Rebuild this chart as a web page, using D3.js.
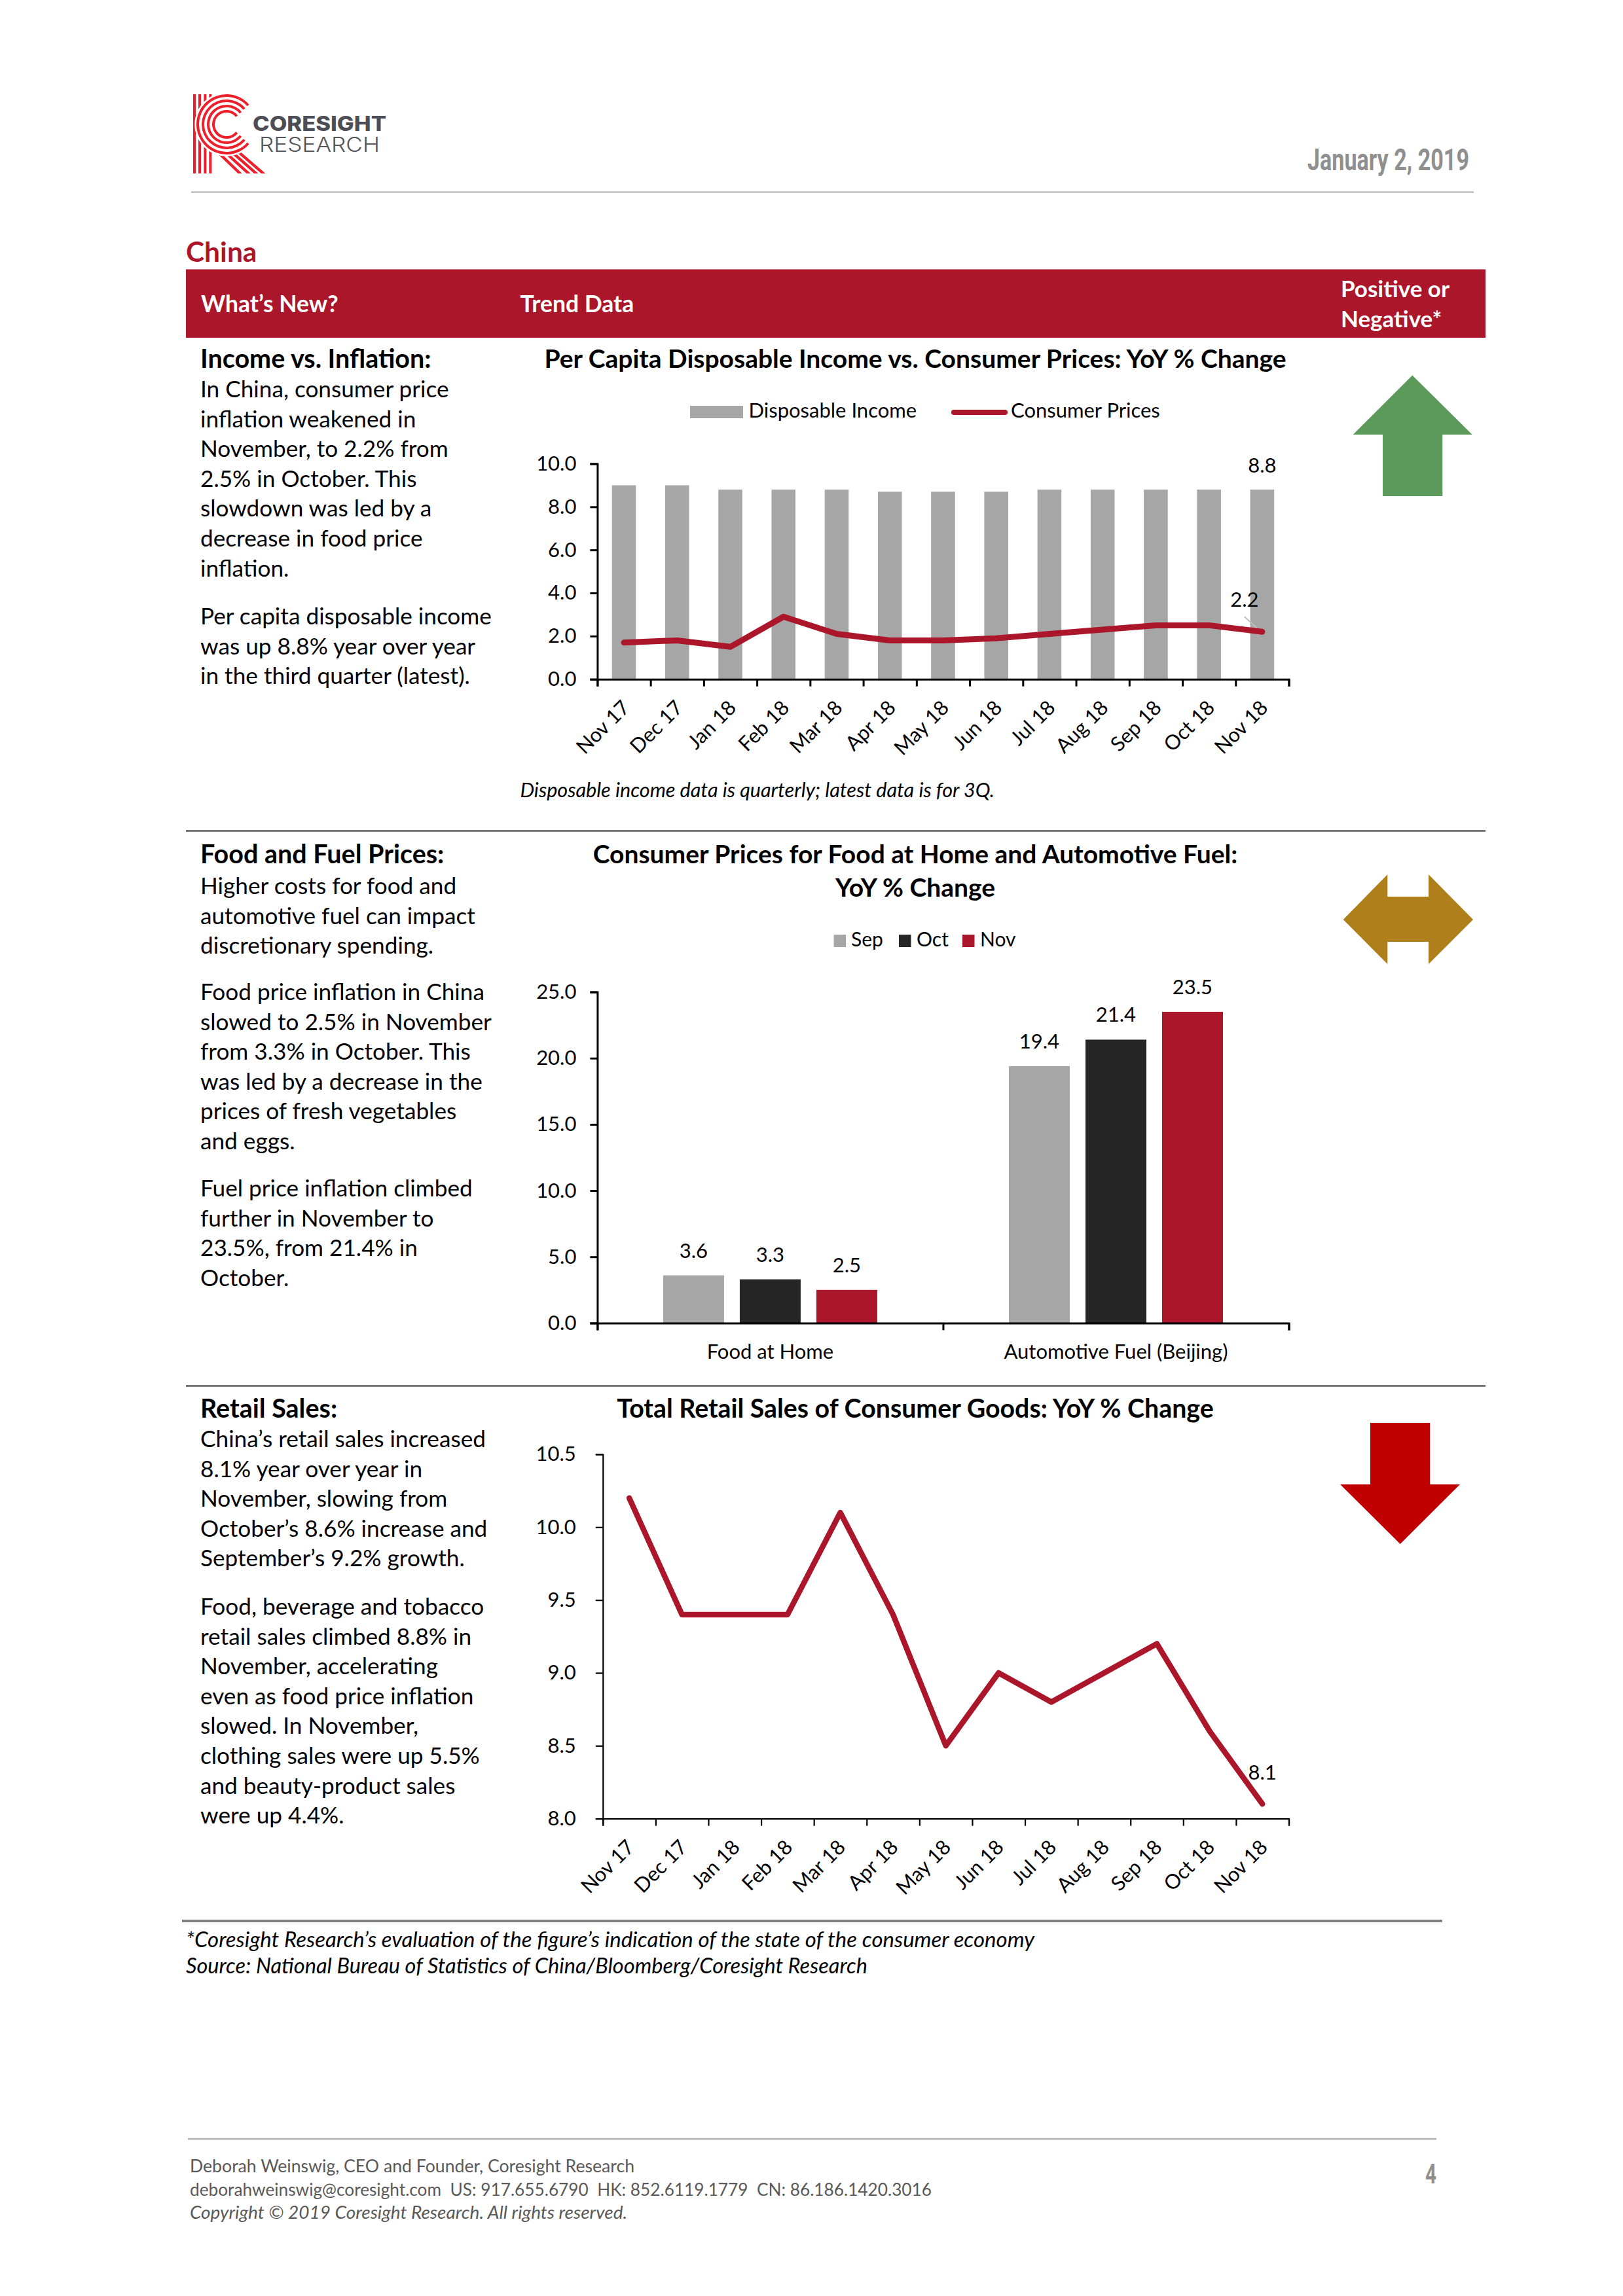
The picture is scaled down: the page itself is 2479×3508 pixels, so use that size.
<!DOCTYPE html>
<html><head><meta charset="utf-8">
<script src="https://cdn.jsdelivr.net/npm/d3@7/dist/d3.min.js"></script>
<style>html,body{margin:0;padding:0;background:#fff}svg{display:block}text{font-family:Lato,sans-serif}</style>
</head><body><svg id="page" width="2479" height="3508" xmlns="http://www.w3.org/2000/svg"></svg>
<script>
const months = ["Nov 17","Dec 17","Jan 18","Feb 18","Mar 18","Apr 18","May 18","Jun 18","Jul 18","Aug 18","Sep 18","Oct 18","Nov 18"];
const disposableIncome = [9.0,9.0,8.8,8.8,8.8,8.7,8.7,8.7,8.8,8.8,8.8,8.8,8.8];
const consumerPrices = [1.7,1.8,1.5,2.9,2.1,1.8,1.8,1.9,2.1,2.3,2.5,2.5,2.2];
const foodFuelCategories = ["Food at Home","Automotive Fuel (Beijing)"];
const foodFuelSeries = ["Sep","Oct","Nov"];
const sepValues = [3.6,19.4];
const octValues = [3.3,21.4];
const novValues = [2.5,23.5];
const retailSales = [10.2,9.4,9.4,9.4,10.1,9.4,8.5,9.0,8.8,9.0,9.2,8.6,8.1];
const ticks1 = [0,2,4,6,8,10];
const ticks2 = [0,5,10,15,20,25];
const ticks3 = [8,8.5,9,9.5,10,10.5];

const blocks = [
 {head:"Income vs. Inflation:", y:562, paras:[
  ["In China, consumer price","inflation weakened in","November, to 2.2% from","2.5% in October. This","slowdown was led by a","decrease in food price","inflation."],
  ["Per capita disposable income","was up 8.8% year over year","in the third quarter (latest)."]], y2:[607,954]},
 {head:"Food and Fuel Prices:", y:1319, paras:[
  ["Higher costs for food and","automotive fuel can impact","discretionary spending."],
  ["Food price inflation in China","slowed to 2.5% in November","from 3.3% in October. This","was led by a decrease in the","prices of fresh vegetables","and eggs."],
  ["Fuel price inflation climbed","further in November to","23.5%, from 21.4% in","October."]], y2:[1366,1528,1828]},
 {head:"Retail Sales:", y:2166, paras:[
  ["China’s retail sales increased","8.1% year over year in","November, slowing from","October’s 8.6% increase and","September’s 9.2% growth."],
  ["Food, beverage and tobacco","retail sales climbed 8.8% in","November, accelerating","even as food price inflation","slowed. In November,","clothing sales were up 5.5%","and beauty-product sales","were up 4.4%."]], y2:[2211,2467]}
];

const RED="#AB162B", GREY="#A6A6A6", DARK="#262626", CH=31;
const svg=d3.select("#page");
svg.append("rect").attr("width",2479).attr("height",3508).attr("fill","#fff");

function T(x,y,s,o={}){
  const t=svg.append("text").attr("x",x).attr("y",y).text(s)
    .attr("font-size",o.size||35.2).attr("fill",o.fill||"#000")
    .attr("font-weight",o.weight||400).attr("font-style",o.style||"normal")
    .attr("text-anchor",o.anchor||"start");
  if(o.family) t.style("font-family",o.family);
  if(o.w) t.attr("textLength",o.w).attr("lengthAdjust","spacingAndGlyphs");
  return t;
}
function rule(x1,x2,y,c,w){svg.append("line").attr("x1",x1).attr("x2",x2).attr("y1",y).attr("y2",y).attr("stroke",c).attr("stroke-width",w);}
function poly(pts,c){svg.append("polygon").attr("points",pts.map(p=>p.join(",")).join(" ")).attr("fill",c);}

/* logo */
(function(){
  const g=svg.append("g").attr("transform","translate(270,120) scale(0.3333)");
  const R="#ED1F2A";
  svg.append("clipPath").attr("id","logoClip").append("rect").attr("x",70).attr("y",72).attr("width",340).attr("height",363);
  const c=g.append("g").attr("clip-path","url(#logoClip)");
  [81,105,130,154].forEach(x=>c.append("line").attr("x1",x).attr("x2",x).attr("y1",72).attr("y2",435).attr("stroke",R).attr("stroke-width",12));
  [[150,300,300,445],[180,300,340,445],[205,295,375,445],[235,295,408,445]].forEach(l=>
    c.append("line").attr("x1",l[0]).attr("y1",l[1]).attr("x2",l[2]).attr("y2",l[3]).attr("stroke",R).attr("stroke-width",13));
  const cx=228,cy=210;
  g.append("circle").attr("cx",cx).attr("cy",cy).attr("r",146).attr("fill","#fff");
  [[126,138,.85],[102,114,.86],[78,90,.88],[54,66,.9]].forEach(a=>{
    g.append("path").attr("transform",`translate(${cx},${cy})`).attr("fill",R)
     .attr("d",d3.arc().innerRadius(a[0]).outerRadius(a[1]).startAngle(a[2]).endAngle(Math.PI-a[2]-2*Math.PI)());
  });
})();
T(386,200,"CORESIGHT",{size:31,weight:800,fill:"#4C4D55",family:"Inter",w:204});
T(396,231.5,"RESEARCH",{size:31,weight:300,fill:"#55565A",family:"Inter",w:184});

T(1997,260,"January 2, 2019",{size:46,weight:700,fill:"#8F8F8F",family:"Roboto",w:247});
rule(292,2251,293.5,"#ABABAB",2);

T(284,400,"China",{size:42.5,weight:700,fill:RED});
svg.append("rect").attr("x",284).attr("y",411.5).attr("width",1985).attr("height",104.5).attr("fill",RED);
T(307,476.5,"What’s New?",{size:35.5,weight:700,fill:"#fff"});
T(794.5,476.5,"Trend Data",{size:35.5,weight:700,fill:"#fff"});
T(2048,453.5,"Positive or",{size:35,weight:700,fill:"#fff"});
T(2048,499.5,"Negative*",{size:35,weight:700,fill:"#fff"});

/* left text */
const LH=45.6;
blocks.forEach(b=>{
  T(306,b.y,b.head,{size:39.5,weight:700});
  b.paras.forEach((p,i)=>p.forEach((l,j)=>T(306,b.y2[i]+j*LH,l)));
});
rule(284,2269,1269.5,"#5A5A5A",2.5);
rule(284,2269,2117.5,"#5A5A5A",2.5);

const x0=912.4,x1=1968.5;
function yAxis(g,scale,vals,pad,sw){
  const a=d3.axisLeft(scale).tickValues(vals).tickSize(11).tickPadding(pad).tickFormat(d3.format(".1f"));
  g.call(a); g.selectAll("text").attr("font-size",CH).attr("fill","#000");
  g.selectAll("line,path").attr("stroke","#000").attr("stroke-width",sw);
}
function xEdges(g,left,right,n,sw){
  const s=d3.scaleLinear().domain([0,n]).range([left,right]);
  g.call(d3.axisBottom(s).tickValues(d3.range(n+1)).tickSize(11).tickFormat(""));
  g.selectAll("line,path").attr("stroke","#000").attr("stroke-width",sw);
}
function xLabels(g,band,dx,dy){
  g.call(d3.axisBottom(band).tickSize(0));
  g.select("path").remove();
  g.selectAll("text").attr("font-size",CH).attr("fill","#000").attr("text-anchor","end")
   .attr("y",0).attr("dy","0.35em").attr("transform",`translate(${dx},${dy}) rotate(-45)`);
}

/* chart 1 */
(function(){
  T(1398,562,"Per Capita Disposable Income vs. Consumer Prices: YoY % Change",{size:39,weight:700,anchor:"middle"});
  const y=d3.scaleLinear().domain([0,10]).range([1037.7,708.5]);
  const labelBand=d3.scaleBand().domain(months).range([x0,x1]);
  const barBand=d3.scaleBand().domain(months).range([x0,x1]).paddingInner(.55).paddingOuter(.275);
  svg.append("g").selectAll("rect").data(disposableIncome).join("rect")
    .attr("x",(d,i)=>barBand(months[i])).attr("width",barBand.bandwidth())
    .attr("y",d=>y(d)).attr("height",d=>y(0)-y(d)).attr("fill",GREY);
  const last=months.length-1;
  svg.append("line").attr("x1",labelBand(months[last])+labelBand.bandwidth()/2-27).attr("y1",y(consumerPrices[last])-23)
    .attr("x2",labelBand(months[last])+labelBand.bandwidth()/2-4).attr("y2",y(consumerPrices[last])-2).attr("stroke","#BFBFBF").attr("stroke-width",2);
  const line=d3.line().x((d,i)=>labelBand(months[i])+labelBand.bandwidth()/2).y(d=>y(d));
  svg.append("path").attr("d",line(consumerPrices)).attr("fill","none").attr("stroke",RED).attr("stroke-width",9).attr("stroke-linejoin","round").attr("stroke-linecap","round");
  yAxis(svg.append("g").attr("transform",`translate(${x0},0)`),y,ticks1,21,3);
  xEdges(svg.append("g").attr("transform",`translate(0,${y(0)})`),x0,x1,13,3);
  xLabels(svg.append("g").attr("transform",`translate(0,${y(0)})`),labelBand,3,38);
  const xc=labelBand(months[last])+labelBand.bandwidth()/2;
  T(xc,722,disposableIncome[last].toFixed(1),{size:CH,anchor:"middle"});
  T(xc-27,927,consumerPrices[last].toFixed(1),{size:CH,anchor:"middle"});
  svg.append("rect").attr("x",1054).attr("y",620).attr("width",81).attr("height",19).attr("fill",GREY);
  T(1143.5,638,"Disposable Income",{size:CH});
  svg.append("line").attr("x1",1457).attr("x2",1535).attr("y1",630).attr("y2",630).attr("stroke",RED).attr("stroke-width",8).attr("stroke-linecap","round");
  T(1544,638,"Consumer Prices",{size:CH});
  T(794.5,1218,"Disposable income data is quarterly; latest data is for 3Q.",{size:30.6,style:"italic"});
})();

/* chart 2 */
(function(){
  T(1398,1319,"Consumer Prices for Food at Home and Automotive Fuel:",{size:39,weight:700,anchor:"middle"});
  T(1398,1370,"YoY % Change",{size:39,weight:700,anchor:"middle"});
  const y=d3.scaleLinear().domain([0,25]).range([2021.4,1515.6]);
  const group=d3.scaleBand().domain(foodFuelCategories).range([x0,x1]);
  const inner=d3.scaleBand().domain(foodFuelSeries).range([(group.bandwidth()-327)/2,(group.bandwidth()+327)/2]).paddingInner(.205);
  const colors=d3.scaleOrdinal().domain(foodFuelSeries).range([GREY,DARK,RED]);
  const seriesVals={Sep:sepValues,Oct:octValues,Nov:novValues};
  foodFuelSeries.forEach(s=>{
    const g=svg.append("g");
    g.selectAll("rect").data(seriesVals[s]).join("rect")
     .attr("x",(d,i)=>group(foodFuelCategories[i])+inner(s)).attr("width",inner.bandwidth())
     .attr("y",d=>y(d)).attr("height",d=>y(0)-y(d)).attr("fill",colors(s));
    g.selectAll("text").data(seriesVals[s]).join("text")
     .attr("x",(d,i)=>group(foodFuelCategories[i])+inner(s)+inner.bandwidth()/2).attr("y",d=>y(d)-27)
     .attr("text-anchor","middle").attr("font-size",CH).text(d=>d.toFixed(1));
  });
  yAxis(svg.append("g").attr("transform",`translate(${x0},0)`),y,ticks2,21,3);
  xEdges(svg.append("g").attr("transform",`translate(0,${y(0)})`),x0,x1,2,3);
  const lab=svg.append("g").attr("transform",`translate(0,${y(0)})`).call(d3.axisBottom(group).tickSize(0));
  lab.select("path").remove();
  lab.selectAll("text").attr("font-size",CH).attr("fill","#000").attr("y",0).attr("dy",54.5);
  [[1273.6,1300],[1373,1400],[1470,1497]].forEach((p,i)=>{
    svg.append("rect").attr("x",p[0]).attr("y",1428).attr("width",18.5).attr("height",19).attr("fill",colors(foodFuelSeries[i]));
    T(p[1],1446,foodFuelSeries[i],{size:30});
  });
})();

/* chart 3 */
(function(){
  T(1398,2166,"Total Retail Sales of Consumer Goods: YoY % Change",{size:39.3,weight:700,anchor:"middle"});
  const left=920.8;
  const y=d3.scaleLinear().domain([8,10.5]).range([2778.6,2222]);
  const band=d3.scaleBand().domain(months).range([left,x1]);
  const line=d3.line().x((d,i)=>band(months[i])+band.bandwidth()/2).y(d=>y(d));
  svg.append("path").attr("d",line(retailSales)).attr("fill","none").attr("stroke",RED).attr("stroke-width",8.5).attr("stroke-linejoin","round").attr("stroke-linecap","round");
  yAxis(svg.append("g").attr("transform",`translate(${left},0)`),y,ticks3,30,2.2);
  xEdges(svg.append("g").attr("transform",`translate(0,${y(8)})`),left,x1,13,2.2);
  xLabels(svg.append("g").attr("transform",`translate(0,${y(8)})`),band,2,38);
  const last=months.length-1;
  T(band(months[last])+band.bandwidth()/2,2719,retailSales[last].toFixed(1),{size:CH,anchor:"middle"});
})();

/* arrows */
poly([[2157.3,573.4],[2248.7,664],[2203.3,664],[2203.3,758],[2112,758],[2112,664],[2066.7,664]],"#5B9A5B");
poly([[2051.7,1405],[2119.3,1336],[2119.3,1370],[2182,1370],[2182,1336],[2250,1405],[2182,1473],[2182,1439],[2119.3,1439],[2119.3,1473]],"#AE7F1A");
poly([[2093,2174],[2184.3,2174],[2184.3,2268],[2230,2268],[2138.7,2359],[2047,2268],[2093,2268]],"#C00000");

/* notes */
rule(278,2203,2935,"#808080",4);
T(284,2975,"*Coresight Research’s evaluation of the figure’s indication of the state of the consumer economy",{size:33,style:"italic",w:1296});
T(284,3015,"Source: National Bureau of Statistics of China/Bloomberg/Coresight Research",{size:33,style:"italic",w:1041});
rule(287,2194,3268,"#B0B0B0",2.5);
T(290,3319,"Deborah Weinswig, CEO and Founder, Coresight Research",{size:27,fill:"#595959",w:679});
T(290,3355,"deborahweinswig@coresight.com  US: 917.655.6790  HK: 852.6119.1779  CN: 86.186.1420.3016",{size:27,fill:"#595959",w:1133}).style("white-space","pre");
T(290,3390,"Copyright © 2019 Coresight Research. All rights reserved.",{size:27,fill:"#595959",style:"italic",w:668});
T(2194,3336,"4",{size:42,weight:700,fill:"#8F8F8F",family:"Roboto",anchor:"end",w:17});
</script></body></html>
